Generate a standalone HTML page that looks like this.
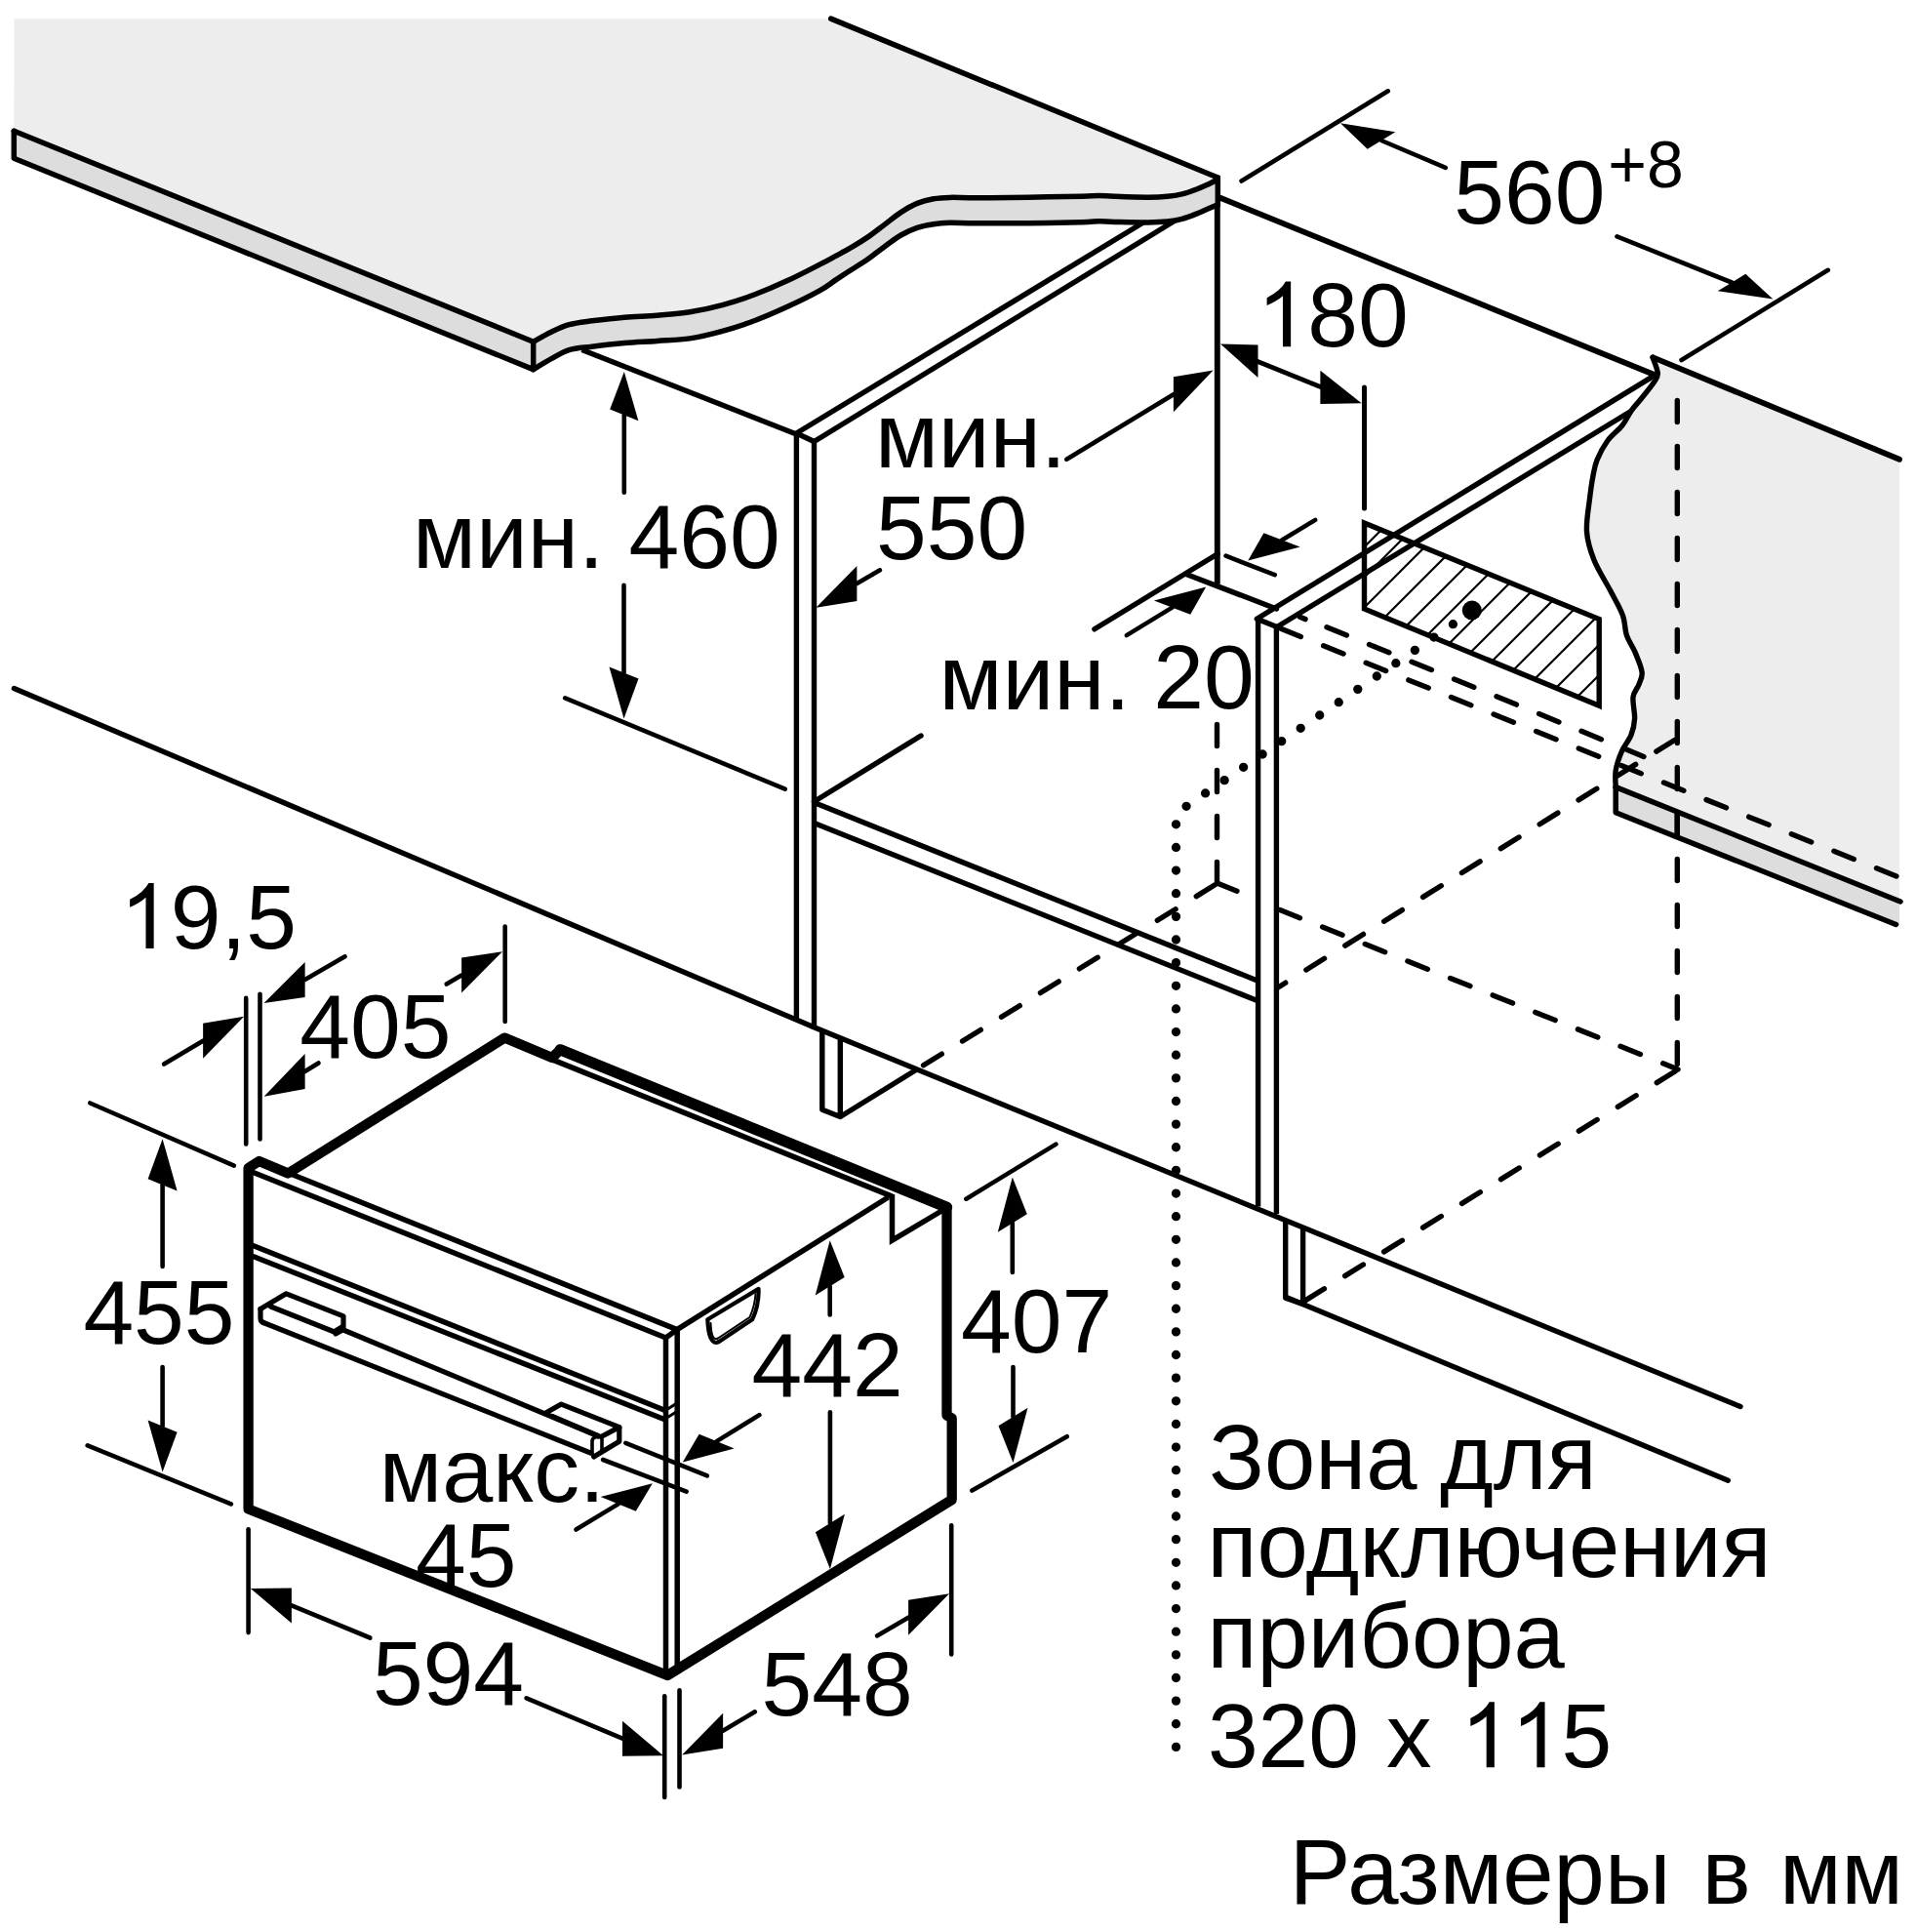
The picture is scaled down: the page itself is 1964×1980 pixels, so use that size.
<!DOCTYPE html>
<html><head><meta charset="utf-8"><title>Installation dimensions</title>
<style>
html,body{margin:0;padding:0;background:#fff;}
body{width:1964px;height:1980px;overflow:hidden;font-family:"Liberation Sans",sans-serif;}
svg{display:block;}
</style></head><body>
<svg width="1964" height="1980" viewBox="0 0 1964 1980" font-family="'Liberation Sans', sans-serif" fill="#000" stroke="#000">
<rect x="0" y="0" width="1964" height="1980" fill="#fff" stroke="none"/>
<line x1="816.4" y1="444" x2="1172" y2="228" stroke-width="5.4" stroke-linecap="butt" />
<line x1="834.5" y1="452.5" x2="1207" y2="224.5" stroke-width="5.4" stroke-linecap="butt" />
<line x1="596.5" y1="358.6" x2="816.4" y2="444.9" stroke-width="5.4" stroke-linecap="butt" />
<path d="M14.6,19.3 L851.7,19.3 L1248.3,182 L1248.3,183.9 L1238.8,188.7 L1228,193.4 L1211.7,198.9 L1196.8,201.3 L1176.4,202.2 L1142.5,201.3 L1126.2,200.5 L1108.6,201.2 L1054.3,202.2 L1000,202.8 L973.6,202.4 L956.9,203.8 L940.2,208.4 L923.5,217.6 L906.8,230.1 L890.1,242.6 L873.4,253.1 L856.7,262.3 L840.6,270.9 L807.2,287.6 L773.8,301.8 L740.4,312.6 L707,319.8 L673.6,323.2 L640.2,325.2 L606.8,328.8 L583.4,332.7 L565.1,340.2 L546.7,350.2 L14.3,134.3 Z" fill="#ededed" stroke="none"/>
<polygon points="14.3,134.3 546.7,350.2 546.7,378.6 14.3,162.2" fill="#dddddd" stroke="none"/>
<path d="M546.7,350.2 C549.8,348.5 559,343.1 565.1,340.2 C571.2,337.3 576.5,334.6 583.4,332.7 C590.3,330.8 597.3,330.1 606.8,328.8 C616.3,327.6 629.1,326.1 640.2,325.2 C651.3,324.3 662.5,324.1 673.6,323.2 C684.7,322.3 695.9,321.6 707,319.8 C718.1,318 729.3,315.6 740.4,312.6 C751.5,309.6 762.7,306 773.8,301.8 C784.9,297.6 796.1,292.8 807.2,287.6 C818.3,282.5 832.4,275.1 840.6,270.9 C848.9,266.7 851.2,265.3 856.7,262.3 C862.2,259.3 867.8,256.4 873.4,253.1 C879,249.8 884.5,246.4 890.1,242.6 C895.7,238.8 901.2,234.3 906.8,230.1 C912.4,225.9 917.9,221.2 923.5,217.6 C929.1,214 934.6,210.7 940.2,208.4 C945.8,206.1 951.3,204.8 956.9,203.8 C962.5,202.8 966.4,202.6 973.6,202.4 C980.8,202.2 986.5,202.8 1000,202.8 C1013.5,202.8 1036.2,202.5 1054.3,202.2 C1072.4,201.9 1096.6,201.5 1108.6,201.2 C1120.6,200.9 1120.5,200.5 1126.2,200.5 C1131.9,200.5 1134.1,201 1142.5,201.3 C1150.9,201.6 1167.4,202.2 1176.4,202.2 C1185.5,202.2 1190.9,201.9 1196.8,201.3 C1202.7,200.8 1206.5,200.2 1211.7,198.9 C1216.9,197.6 1223.5,195.1 1228,193.4 C1232.5,191.7 1235.4,190.3 1238.8,188.7 C1242.2,187.1 1246.7,184.7 1248.3,183.9 L1248.3,209.7 C1246.7,210.4 1242.2,212.3 1238.8,213.8 C1235.4,215.3 1232.5,216.7 1228,218.5 C1223.5,220.3 1216.9,223 1211.7,224.4 C1206.5,225.8 1202.7,226.5 1196.8,227.1 C1190.9,227.7 1185.5,227.9 1176.4,228 C1167.4,228.1 1150.9,227.6 1142.5,227.4 C1134.1,227.2 1131.9,226.6 1126.2,226.7 C1120.5,226.8 1120.6,227.5 1108.6,227.8 C1096.6,228.1 1072.4,228.5 1054.3,228.7 C1036.2,228.9 1013.5,228.9 1000,228.8 C986.5,228.7 980.8,228.2 973.6,228.3 C966.4,228.5 962.5,228.8 956.9,229.7 C951.3,230.5 945.8,231.5 940.2,233.4 C934.6,235.3 929.1,237.8 923.5,241 C917.9,244.2 912.4,248.7 906.8,252.7 C901.2,256.7 895.7,261.3 890.1,265.2 C884.5,269.1 879,272.4 873.4,276 C867.8,279.6 862.2,283.3 856.7,286.9 C851.2,290.5 848.9,293 840.6,297.6 C832.4,302.2 818.3,309.2 807.2,314.3 C796.1,319.4 784.9,324.3 773.8,328.5 C762.7,332.7 751.5,336.3 740.4,339.4 C729.3,342.5 718.1,345.2 707,346.9 C695.9,348.6 684.7,348.6 673.6,349.4 C662.5,350.2 651.3,350.5 640.2,351.5 C629.1,352.5 616.3,354 606.8,355.2 C597.3,356.4 590.3,356.5 583.4,358.6 C576.5,360.7 571.2,364.4 565.1,367.7 C559,371 549.8,376.8 546.7,378.6 Z" fill="#dddddd" stroke="none"/>
<line x1="851.7" y1="19.1" x2="1248.3" y2="182" stroke-width="5.5" stroke-linecap="round" />
<polyline points="14.3,134.3 546.7,350.2" fill="none" stroke-width="5.5" stroke-linejoin="miter" stroke-linecap="round" />
<polyline points="14.3,134.3 14.3,162.2 546.7,378.6 546.7,350.2" fill="none" stroke-width="5.5" stroke-linejoin="round" stroke-linecap="round" />
<path d="M546.7,350.2 C549.8,348.5 559,343.1 565.1,340.2 C571.2,337.3 576.5,334.6 583.4,332.7 C590.3,330.8 597.3,330.1 606.8,328.8 C616.3,327.6 629.1,326.1 640.2,325.2 C651.3,324.3 662.5,324.1 673.6,323.2 C684.7,322.3 695.9,321.6 707,319.8 C718.1,318 729.3,315.6 740.4,312.6 C751.5,309.6 762.7,306 773.8,301.8 C784.9,297.6 796.1,292.8 807.2,287.6 C818.3,282.5 832.4,275.1 840.6,270.9 C848.9,266.7 851.2,265.3 856.7,262.3 C862.2,259.3 867.8,256.4 873.4,253.1 C879,249.8 884.5,246.4 890.1,242.6 C895.7,238.8 901.2,234.3 906.8,230.1 C912.4,225.9 917.9,221.2 923.5,217.6 C929.1,214 934.6,210.7 940.2,208.4 C945.8,206.1 951.3,204.8 956.9,203.8 C962.5,202.8 966.4,202.6 973.6,202.4 C980.8,202.2 986.5,202.8 1000,202.8 C1013.5,202.8 1036.2,202.5 1054.3,202.2 C1072.4,201.9 1096.6,201.5 1108.6,201.2 C1120.6,200.9 1120.5,200.5 1126.2,200.5 C1131.9,200.5 1134.1,201 1142.5,201.3 C1150.9,201.6 1167.4,202.2 1176.4,202.2 C1185.5,202.2 1190.9,201.9 1196.8,201.3 C1202.7,200.8 1206.5,200.2 1211.7,198.9 C1216.9,197.6 1223.5,195.1 1228,193.4 C1232.5,191.7 1235.4,190.3 1238.8,188.7 C1242.2,187.1 1246.7,184.7 1248.3,183.9" fill="none" stroke-width="5.5" stroke-linejoin="round" stroke-linecap="round" />
<path d="M546.7,378.6 C549.8,376.8 559,371 565.1,367.7 C571.2,364.4 576.5,360.7 583.4,358.6 C590.3,356.5 597.3,356.4 606.8,355.2 C616.3,354 629.1,352.5 640.2,351.5 C651.3,350.5 662.5,350.2 673.6,349.4 C684.7,348.6 695.9,348.6 707,346.9 C718.1,345.2 729.3,342.5 740.4,339.4 C751.5,336.3 762.7,332.7 773.8,328.5 C784.9,324.3 796.1,319.4 807.2,314.3 C818.3,309.2 832.4,302.2 840.6,297.6 C848.9,293 851.2,290.5 856.7,286.9 C862.2,283.3 867.8,279.6 873.4,276 C879,272.4 884.5,269.1 890.1,265.2 C895.7,261.3 901.2,256.7 906.8,252.7 C912.4,248.7 917.9,244.2 923.5,241 C929.1,237.8 934.6,235.3 940.2,233.4 C945.8,231.5 951.3,230.5 956.9,229.7 C962.5,228.8 966.4,228.5 973.6,228.3 C980.8,228.2 986.5,228.7 1000,228.8 C1013.5,228.9 1036.2,228.9 1054.3,228.7 C1072.4,228.5 1096.6,228.1 1108.6,227.8 C1120.6,227.5 1120.5,226.8 1126.2,226.7 C1131.9,226.6 1134.1,227.2 1142.5,227.4 C1150.9,227.6 1167.4,228.1 1176.4,228 C1185.5,227.9 1190.9,227.7 1196.8,227.1 C1202.7,226.5 1206.5,225.8 1211.7,224.4 C1216.9,223 1223.5,220.3 1228,218.5 C1232.5,216.7 1235.4,215.3 1238.8,213.8 C1242.2,212.3 1246.7,210.4 1248.3,209.7" fill="none" stroke-width="5.5" stroke-linejoin="round" stroke-linecap="round" />
<line x1="1248.3" y1="182" x2="1248.3" y2="210" stroke-width="5.5" stroke-linecap="round" />
<path d="M1694,366 C1694.9,368.8 1699.1,378.2 1699.3,382.5 C1699.5,386.8 1698.1,387.6 1695.2,392 C1692.3,396.4 1685.8,404.2 1682,409 C1678.2,413.8 1675.7,416 1672.4,420.6 C1669.2,425.2 1666.6,431.4 1662.5,436.5 C1658.4,441.6 1652.2,445.7 1648,451.5 C1643.8,457.3 1639.6,465.1 1637.1,471.2 C1634.6,477.3 1634.2,481.2 1632.9,487.9 C1631.6,494.6 1630.6,501.8 1629.5,511.3 C1628.4,520.8 1625.8,534.2 1626.5,544.7 C1627.2,555.2 1630,563.9 1634,574 C1638,584.1 1645.8,595.9 1650.7,605.3 C1655.6,614.7 1660.5,622.6 1663.3,630.3 C1666.1,637.9 1665.3,644.9 1667.4,651.2 C1669.5,657.5 1673.2,661.6 1675.8,667.9 C1678.4,674.2 1682.4,683.2 1683.1,688.8 C1683.8,694.4 1681.5,697 1680,701.3 C1678.5,705.6 1674.7,708.7 1674,714.5 C1673.3,720.3 1675.9,729.8 1675.6,736.3 C1675.3,742.8 1674.2,747.6 1672,753.3 C1669.8,758.9 1664.9,764.2 1662.3,770.2 C1659.7,776.2 1657.2,783.5 1656.2,789.6 C1655.2,795.7 1656.2,803.8 1656.2,806.6 L1947,924 L1947,470.8 L1694.5,366.4 Z" fill="#ededed" stroke="none"/>
<polygon points="1656.2,806.6 1947,924 1947,948.5 1656.2,832.7" fill="#dddddd" stroke="none"/>
<line x1="1249" y1="202" x2="1697" y2="384.5" stroke-width="5.8" stroke-linecap="round" />
<line x1="1694.5" y1="366.4" x2="1947" y2="470.8" stroke-width="5.8" stroke-linecap="round" />
<path d="M1694,366 C1694.9,368.8 1699.1,378.2 1699.3,382.5 C1699.5,386.8 1698.1,387.6 1695.2,392 C1692.3,396.4 1685.8,404.2 1682,409 C1678.2,413.8 1675.7,416 1672.4,420.6 C1669.2,425.2 1666.6,431.4 1662.5,436.5 C1658.4,441.6 1652.2,445.7 1648,451.5 C1643.8,457.3 1639.6,465.1 1637.1,471.2 C1634.6,477.3 1634.2,481.2 1632.9,487.9 C1631.6,494.6 1630.6,501.8 1629.5,511.3 C1628.4,520.8 1625.8,534.2 1626.5,544.7 C1627.2,555.2 1630,563.9 1634,574 C1638,584.1 1645.8,595.9 1650.7,605.3 C1655.6,614.7 1660.5,622.6 1663.3,630.3 C1666.1,637.9 1665.3,644.9 1667.4,651.2 C1669.5,657.5 1673.2,661.6 1675.8,667.9 C1678.4,674.2 1682.4,683.2 1683.1,688.8 C1683.8,694.4 1681.5,697 1680,701.3 C1678.5,705.6 1674.7,708.7 1674,714.5 C1673.3,720.3 1675.9,729.8 1675.6,736.3 C1675.3,742.8 1674.2,747.6 1672,753.3 C1669.8,758.9 1664.9,764.2 1662.3,770.2 C1659.7,776.2 1657.2,783.5 1656.2,789.6 C1655.2,795.7 1656.2,803.8 1656.2,806.6" fill="none" stroke-width="5.4" stroke-linejoin="round" stroke-linecap="round" />
<polyline points="1656.2,806.6 1656.2,832.7 1943.5,947.5" fill="none" stroke-width="5.5" stroke-linejoin="round" stroke-linecap="round" />
<line x1="1656.2" y1="806.6" x2="1948" y2="924" stroke-width="5.5" stroke-linecap="round" />
<line x1="1247.8" y1="210" x2="1247.8" y2="598.7" stroke-width="5.9" stroke-linecap="butt" />
<line x1="816.4" y1="1047" x2="816.4" y2="442" stroke-width="5.4" stroke-linecap="butt" />
<line x1="834.5" y1="1055" x2="834.5" y2="452.5" stroke-width="5.4" stroke-linecap="butt" />
<line x1="816.4" y1="444" x2="834.5" y2="452.5" stroke-width="5.4" stroke-linecap="butt" />
<line x1="834.5" y1="821.5" x2="944" y2="754" stroke-width="5.4" stroke-linecap="round" />
<line x1="834.5" y1="822.5" x2="1290" y2="1005.5" stroke-width="5.4" stroke-linecap="butt" />
<line x1="834.5" y1="843.4" x2="1290" y2="1026" stroke-width="5.4" stroke-linecap="butt" />
<polyline points="14.4,705.5 835,1053 1784,1441.5" fill="none" stroke-width="5.4" stroke-linejoin="round" stroke-linecap="round" />
<polyline points="842.8,1055 842.8,1137.2 861.3,1144.5 861.3,1063" fill="none" stroke-width="5.4" stroke-linejoin="round" stroke-linecap="butt" />
<line x1="861.3" y1="1144.5" x2="940.2" y2="1095.7" stroke-width="5.4" stroke-linecap="butt" />
<line x1="1289.6" y1="635" x2="1289.6" y2="1236.6" stroke-width="5.4" stroke-linecap="butt" />
<line x1="1308.4" y1="642" x2="1308.4" y2="1244" stroke-width="5.4" stroke-linecap="butt" />
<polyline points="1317.7,1249 1317.7,1330.3 1335.6,1336.5 1335.6,1256.5" fill="none" stroke-width="5.4" stroke-linejoin="round" stroke-linecap="butt" />
<line x1="1320.3" y1="1330.3" x2="1771.3" y2="1517.3" stroke-width="5.4" stroke-linecap="round" />
<polyline points="1309,642.5 1288.3,634.3 1694.5,385.6" fill="none" stroke-width="5.4" stroke-linejoin="round" stroke-linecap="round" />
<line x1="1309" y1="642.5" x2="1672" y2="421.3" stroke-width="5.4" stroke-linecap="butt" />
<line x1="1216" y1="588.5" x2="1308.5" y2="624" stroke-width="5.4" stroke-linecap="round" />
<line x1="1121.9" y1="644.8" x2="1248" y2="567.7" stroke-width="5.4" stroke-linecap="round" />
<clipPath id="hc"><polygon points="1398.5,536 1639.2,634.5 1639.2,723.2 1398.5,624"/></clipPath>
<g clip-path="url(#hc)" stroke-width="2.2">
<line x1="1390" y1="569" x2="1650" y2="309"/>
<line x1="1390" y1="600" x2="1650" y2="340"/>
<line x1="1390" y1="631" x2="1650" y2="371"/>
<line x1="1390" y1="662" x2="1650" y2="402"/>
<line x1="1390" y1="693" x2="1650" y2="433"/>
<line x1="1390" y1="724" x2="1650" y2="464"/>
<line x1="1390" y1="755" x2="1650" y2="495"/>
<line x1="1390" y1="786" x2="1650" y2="526"/>
<line x1="1390" y1="817" x2="1650" y2="557"/>
<line x1="1390" y1="848" x2="1650" y2="588"/>
<line x1="1390" y1="879" x2="1650" y2="619"/>
<line x1="1390" y1="910" x2="1650" y2="650"/>
<line x1="1390" y1="941" x2="1650" y2="681"/>
<line x1="1390" y1="972" x2="1650" y2="712"/>
</g>
<polygon points="1398.5,536 1639.2,634.5 1639.2,723.2 1398.5,624" fill="none" stroke-width="5.4" stroke-linejoin="miter" stroke-linecap="butt" />
<line x1="1398.5" y1="397" x2="1398.5" y2="521" stroke-width="5" stroke-linecap="round" />
<circle cx="1508.8" cy="625.5" r="10" stroke="none"/>
<line x1="1489.4" y1="639.7" x2="1215.9" y2="826.4" stroke-width="9.3" stroke-linecap="round" stroke-dasharray="0 23.64"/>
<line x1="1205.5" y1="1790.4" x2="1205.5" y2="844.7" stroke-width="9.3" stroke-linecap="round" stroke-dasharray="0 23.64"/>
<line x1="1719.3" y1="410.5" x2="1719.3" y2="1098" stroke-width="5.4" stroke-linecap="round" stroke-dasharray="22 25" stroke-dashoffset="0"/>
<line x1="1719.3" y1="832" x2="1719.3" y2="860" stroke-width="5.4" stroke-linecap="butt" />
<line x1="1360" y1="642.7" x2="1690" y2="777.5" stroke-width="5.4" stroke-linecap="round" stroke-dasharray="22 25" stroke-dashoffset="0"/>
<line x1="1332.5" y1="632.3" x2="1338" y2="634.6" stroke-width="5.4" stroke-linecap="round" />
<line x1="1313" y1="644.3" x2="1946" y2="898.8" stroke-width="5.4" stroke-linecap="round" stroke-dasharray="22 25" stroke-dashoffset="0"/>
<line x1="1716.5" y1="758.5" x2="1310" y2="1012" stroke-width="5.4" stroke-linecap="round" stroke-dasharray="22 25" stroke-dashoffset="0"/>
<line x1="1247.5" y1="742.5" x2="1247.5" y2="906" stroke-width="5.4" stroke-linecap="round" stroke-dasharray="22 25" stroke-dashoffset="0"/>
<line x1="1247.5" y1="905" x2="1271.6" y2="914.7" stroke-width="5.4" stroke-linecap="round" stroke-dasharray="22 25" stroke-dashoffset="0"/>
<line x1="1245" y1="907" x2="940.2" y2="1095.7" stroke-width="5.4" stroke-linecap="round" stroke-dasharray="22 25" stroke-dashoffset="0"/>
<line x1="1312" y1="932.5" x2="1720" y2="1096" stroke-width="5.4" stroke-linecap="round" stroke-dasharray="22 25" stroke-dashoffset="0"/>
<line x1="1717" y1="1098" x2="1336" y2="1334" stroke-width="5.4" stroke-linecap="round" stroke-dasharray="22 25" stroke-dashoffset="0"/>
<polygon points="254.6,1197 265.6,1190 295.3,1202.5 517.2,1063.6 566,1084 574.2,1075.8 970.5,1237.2 970.5,1450.5 975.7,1453.5 975.7,1537 684.2,1717 254.6,1546.5" fill="none" stroke-width="10.3" stroke-linejoin="round" stroke-linecap="butt" />
<line x1="265.6" y1="1190" x2="694" y2="1362.6" stroke-width="5.5" stroke-linecap="butt" />
<line x1="257" y1="1200.5" x2="682.5" y2="1371" stroke-width="5.5" stroke-linecap="butt" />
<line x1="682.5" y1="1371" x2="694" y2="1362.6" stroke-width="5.5" stroke-linecap="butt" />
<line x1="682.5" y1="1371" x2="682.5" y2="1714" stroke-width="5.5" stroke-linecap="butt" />
<line x1="694.2" y1="1362.6" x2="694.2" y2="1710" stroke-width="5.5" stroke-linecap="butt" />
<line x1="694" y1="1362.6" x2="910.5" y2="1227" stroke-width="5.5" stroke-linecap="butt" />
<line x1="574.2" y1="1075.8" x2="970.5" y2="1237.2" stroke-width="11.3" stroke-linecap="round" />
<line x1="566" y1="1085.8" x2="914.5" y2="1226.2" stroke-width="5.6" stroke-linecap="butt" />
<polyline points="914.5,1224 914.5,1271.2 966,1240.5" fill="none" stroke-width="5.5" stroke-linejoin="miter" stroke-linecap="butt" />
<line x1="258" y1="1276" x2="682" y2="1445.5" stroke-width="5.5" stroke-linecap="butt" />
<line x1="258" y1="1287" x2="682" y2="1455" stroke-width="5.5" stroke-linecap="butt" />
<polyline points="682,1445.5 694,1438 694,1446.5 682,1454" fill="none" stroke-width="3" stroke-linejoin="miter" stroke-linecap="butt" />
<path d="M725.3,1352.2 L777.5,1320.9 C778,1332 775,1344 771.2,1352.2 L737,1375 C729,1379 726,1368 725.3,1352.2 Z" fill="none" stroke-width="4.2" stroke-linejoin="round" stroke-linecap="round" />
<path d="M728.5,1356 C729,1368 731,1374 736,1371.5 L768.5,1350 C772,1342 774,1334 774.5,1326" fill="none" stroke-width="2" stroke-linejoin="round" stroke-linecap="round" />
<line x1="352" y1="1363" x2="613.9" y2="1472" stroke-width="5.2" stroke-linecap="butt" />
<line x1="268.8" y1="1355" x2="606.6" y2="1489.5" stroke-width="5.2" stroke-linecap="butt" />
<path d="M267,1341.5 L267,1351 Q267,1354.5 270,1355.5" fill="none" stroke-width="5.2" stroke-linejoin="round" stroke-linecap="round" />
<polyline points="267,1341.5 293.4,1325.8 352,1348.8 352,1362.5 344,1367" fill="none" stroke-width="5.2" stroke-linejoin="round" stroke-linecap="round" />
<polyline points="277.5,1339 341.5,1364.5" fill="none" stroke-width="5.2" stroke-linejoin="miter" stroke-linecap="round" />
<line x1="341.5" y1="1364.5" x2="352" y2="1358" stroke-width="3.6" stroke-linecap="round" />
<polyline points="558.6,1448.5 575.3,1439.1 634.8,1462.6 634.8,1477.2 608.7,1492.9" fill="none" stroke-width="5.2" stroke-linejoin="round" stroke-linecap="round" />
<polyline points="566,1451.5 613.9,1472" fill="none" stroke-width="5.2" stroke-linejoin="miter" stroke-linecap="round" />
<line x1="617.1" y1="1472" x2="634.8" y2="1462.6" stroke-width="5.2" stroke-linecap="round" />
<path d="M607,1477 Q607,1474 610,1473 L614,1472 Q617,1472 617,1475 L617,1485 Q617,1488 614,1490 L610,1492 Q607,1492 607,1489 Z" fill="none" stroke-width="3.6" stroke-linejoin="round" stroke-linecap="round" />
<line x1="617" y1="1487" x2="634.8" y2="1477.2" stroke-width="3.2" stroke-linecap="round" />
<line x1="1272.6" y1="185.5" x2="1422.8" y2="93.3" stroke-width="4.6" stroke-linecap="round" />
<line x1="1723.6" y1="369" x2="1873.8" y2="276.8" stroke-width="4.6" stroke-linecap="round" />
<polygon points="1374,126.2 1430.3,135.3 1401.7,152.7" fill="#000" stroke="none"/>
<line x1="1416" y1="144" x2="1481.8" y2="171.8" stroke-width="4.6" stroke-linecap="round" />
<polygon points="1817.4,306.5 1789.3,280.8 1760.8,298.2" fill="#000" stroke="none"/>
<line x1="1775.1" y1="289.5" x2="1657.5" y2="242.4" stroke-width="4.6" stroke-linecap="round" />
<polygon points="1251,352.6 1289.5,353.5 1289.5,387" stroke="none"/>
<polygon points="1395.7,413.2 1353.4,379.8 1353.4,414" stroke="none"/>
<line x1="1288" y1="370" x2="1356" y2="397.5" stroke-width="4.6" stroke-linecap="butt" />
<polygon points="1243.6,379.5 1202.9,386.2 1202.9,422.2" fill="#000" stroke="none"/>
<line x1="1202.9" y1="404.2" x2="1093.3" y2="470.7" stroke-width="4.6" stroke-linecap="round" />
<polygon points="836.4,622.7 878.4,580.1 878.4,616.1" fill="#000" stroke="none"/>
<line x1="878.4" y1="598.1" x2="902" y2="584.3" stroke-width="4.6" stroke-linecap="round" />
<polygon points="639.8,381.1 625.2,419.5 654.4,431.3" fill="#000" stroke="none"/>
<line x1="639.8" y1="425.4" x2="639.8" y2="504.8" stroke-width="4.6" stroke-linecap="round" />
<polygon points="639.5,736.5 624.5,683.4 654.5,695.6" fill="#000" stroke="none"/>
<line x1="639.5" y1="689.5" x2="639.5" y2="599.7" stroke-width="4.6" stroke-linecap="round" />
<line x1="579.2" y1="715.4" x2="804.7" y2="808.6" stroke-width="4.6" stroke-linecap="round" />
<polygon points="1236.2,601.5 1220.2,629.8 1182.9,615.4" fill="#000" stroke="none"/>
<line x1="1201.5" y1="622.6" x2="1154.8" y2="651.1" stroke-width="4.6" stroke-linecap="round" />
<polygon points="1279.3,574.4 1332.7,560.6 1295.4,546.3" fill="#000" stroke="none"/>
<line x1="1314.1" y1="553.5" x2="1348.2" y2="532.9" stroke-width="4.6" stroke-linecap="round" />
<line x1="1256.6" y1="569.7" x2="1306.7" y2="589.2" stroke-width="4.6" stroke-linecap="round" />
<line x1="252.2" y1="1022.9" x2="252.2" y2="1172.5" stroke-width="4.6" stroke-linecap="round" />
<line x1="266.5" y1="1018.8" x2="266.5" y2="1167.4" stroke-width="4.6" stroke-linecap="round" />
<line x1="517.7" y1="949.6" x2="517.7" y2="1047" stroke-width="4.6" stroke-linecap="round" />
<polygon points="250.1,1041.8 208.1,1048.7 208.1,1084.7" fill="#000" stroke="none"/>
<line x1="208.1" y1="1066.7" x2="168.1" y2="1090.5" stroke-width="4.6" stroke-linecap="round" />
<polygon points="270.6,1028 312.6,985.9 312.6,1021.9" fill="#000" stroke="none"/>
<line x1="312.6" y1="1003.9" x2="353.6" y2="980.3" stroke-width="4.6" stroke-linecap="round" />
<polygon points="270.6,1123.8 312.6,1080 312.6,1116" fill="#000" stroke="none"/>
<line x1="312.6" y1="1098" x2="326.5" y2="1089.5" stroke-width="4.6" stroke-linecap="round" />
<polygon points="515.1,975.2 473.1,981.6 473.1,1017.6" fill="#000" stroke="none"/>
<line x1="473.1" y1="999.6" x2="457.7" y2="1008.5" stroke-width="4.6" stroke-linecap="round" />
<line x1="92.3" y1="1130.5" x2="239.9" y2="1194.6" stroke-width="4.6" stroke-linecap="round" />
<line x1="89.7" y1="1481.4" x2="236.8" y2="1541.4" stroke-width="4.6" stroke-linecap="round" />
<polygon points="166.6,1167.3 151.6,1208.2 181.6,1220.4" fill="#000" stroke="none"/>
<line x1="166.6" y1="1214.3" x2="166.6" y2="1298" stroke-width="4.6" stroke-linecap="round" />
<polygon points="166.6,1508.6 151.6,1455.5 181.6,1467.7" fill="#000" stroke="none"/>
<line x1="166.6" y1="1461.6" x2="166.6" y2="1401" stroke-width="4.6" stroke-linecap="round" />
<line x1="254.6" y1="1567.3" x2="254.6" y2="1673.1" stroke-width="4.6" stroke-linecap="round" />
<line x1="681.2" y1="1738.2" x2="681.2" y2="1842" stroke-width="4.6" stroke-linecap="round" />
<polygon points="256.9,1628.1 298.9,1627.4 298.9,1663.4" fill="#000" stroke="none"/>
<line x1="298.9" y1="1645.4" x2="379.3" y2="1678.5" stroke-width="4.6" stroke-linecap="round" />
<polygon points="680,1799.3 638,1763.7 638,1799.7" fill="#000" stroke="none"/>
<line x1="638" y1="1781.7" x2="539.6" y2="1740.3" stroke-width="4.6" stroke-linecap="round" />
<line x1="696.5" y1="1732.4" x2="696.5" y2="1831.5" stroke-width="4.6" stroke-linecap="round" />
<line x1="975.2" y1="1563.2" x2="975.2" y2="1695.5" stroke-width="4.6" stroke-linecap="round" />
<polygon points="699.1,1798.6 741.1,1755.7 741.1,1791.7" fill="#000" stroke="none"/>
<line x1="741.1" y1="1773.7" x2="773.8" y2="1754.3" stroke-width="4.6" stroke-linecap="round" />
<polygon points="973.1,1633.2 931.1,1639.7 931.1,1675.7" fill="#000" stroke="none"/>
<line x1="931.1" y1="1657.7" x2="899" y2="1676.4" stroke-width="4.6" stroke-linecap="round" />
<polygon points="850.7,1271.2 835.7,1327.4 865.7,1309" fill="#000" stroke="none"/>
<line x1="850.7" y1="1318.2" x2="850.7" y2="1347.4" stroke-width="4.6" stroke-linecap="round" />
<polygon points="850.9,1608 835.9,1570.2 865.9,1551.8" fill="#000" stroke="none"/>
<line x1="850.9" y1="1561" x2="850.9" y2="1447.2" stroke-width="4.6" stroke-linecap="round" />
<line x1="990.4" y1="1228.7" x2="1082.4" y2="1172.6" stroke-width="4.6" stroke-linecap="round" />
<line x1="996.4" y1="1527.6" x2="1093.7" y2="1472.2" stroke-width="4.6" stroke-linecap="round" />
<polygon points="1037.8,1206.5 1022.8,1262.7 1052.8,1244.3" fill="#000" stroke="none"/>
<line x1="1037.8" y1="1253.5" x2="1037.8" y2="1304" stroke-width="4.6" stroke-linecap="round" />
<polygon points="1038.5,1499 1023.5,1461.2 1053.5,1442.8" fill="#000" stroke="none"/>
<line x1="1038.5" y1="1452" x2="1038.5" y2="1401" stroke-width="4.6" stroke-linecap="round" />
<polygon points="699.8,1498.6 752.6,1484.5 716.6,1469.7" fill="#000" stroke="none"/>
<line x1="734.6" y1="1477.1" x2="778.4" y2="1450.1" stroke-width="4.6" stroke-linecap="round" />
<polygon points="668.8,1520.3 651.8,1548.8 615.7,1534" fill="#000" stroke="none"/>
<line x1="633.8" y1="1541.4" x2="590.5" y2="1567.5" stroke-width="4.6" stroke-linecap="round" />
<line x1="641.3" y1="1478.9" x2="724.8" y2="1512.3" stroke-width="4.6" stroke-linecap="round" />
<line x1="618.1" y1="1496" x2="703.6" y2="1528.6" stroke-width="4.6" stroke-linecap="round" />
<g stroke="none">
<text x="423" y="582.2" font-size="94.5" >мин.</text>
<text x="644.6" y="582.2" font-size="93" >460</text>
<text x="896.9" y="479.4" font-size="94.5" >мин.</text>
<text x="898" y="573.3" font-size="93" >550</text>
<text x="1490.3" y="228.5" font-size="93" >560</text>
<text x="1648.2" y="192.3" font-size="68" >+8</text>
<path d="M763,0H583V1147Q518,1085 412.5,1023Q307,961 223,930V1104Q374,1175 487,1276Q600,1377 647,1472H763Z" transform="translate(1288.5,355.3) scale(0.04541,-0.04541)" stroke="none"/>
<text x="1340.2" y="355.3" font-size="93">80</text>
<text x="962.5" y="727" font-size="94.5" >мин.</text>
<text x="1182.2" y="726.3" font-size="93" >20</text>
<path d="M763,0H583V1147Q518,1085 412.5,1023Q307,961 223,930V1104Q374,1175 487,1276Q600,1377 647,1472H763Z" transform="translate(123,971.9) scale(0.04541,-0.04541)" stroke="none"/>
<text x="174.7" y="971.9" font-size="93">9,5</text>
<text x="307.2" y="1084.1" font-size="93" >405</text>
<text x="85.4" y="1376.5" font-size="93" >455</text>
<text x="388.8" y="1539.2" font-size="93.6" >макс.</text>
<text x="426" y="1625.5" font-size="93" >45</text>
<text x="381.9" y="1746.6" font-size="93" >594</text>
<text x="770.5" y="1430.5" font-size="93" >442</text>
<text x="780.6" y="1758.3" font-size="93" >548</text>
<text x="985.1" y="1386.1" font-size="93" >407</text>
<text x="1239.2" y="1525.8" font-size="94" >Зона</text>
<text x="1476" y="1525.8" font-size="94" >для</text>
<text x="1237.5" y="1615.6" font-size="94" >подключения</text>
<text x="1237.5" y="1708.6" font-size="94" >прибора</text>
<text x="1237.9" y="1811.2" font-size="93" >320</text>
<text x="1420.9" y="1811.2" font-size="93" >x</text>
<path d="M763,0H583V1147Q518,1085 412.5,1023Q307,961 223,930V1104Q374,1175 487,1276Q600,1377 647,1472H763Z" transform="translate(1497.2,1811.2) scale(0.04541,-0.04541)" stroke="none"/>
<path d="M763,0H583V1147Q518,1085 412.5,1023Q307,961 223,930V1104Q374,1175 487,1276Q600,1377 647,1472H763Z" transform="translate(1548.9,1811.2) scale(0.04541,-0.04541)" stroke="none"/>
<text x="1600.6" y="1811.2" font-size="93">5</text>
<text x="1321.8" y="1950.6" font-size="94" >Размеры</text>
<text x="1744.7" y="1950.6" font-size="94" >в</text>
<text x="1824.2" y="1950.6" font-size="92" >мм</text>
</g>
</svg>
</body></html>
